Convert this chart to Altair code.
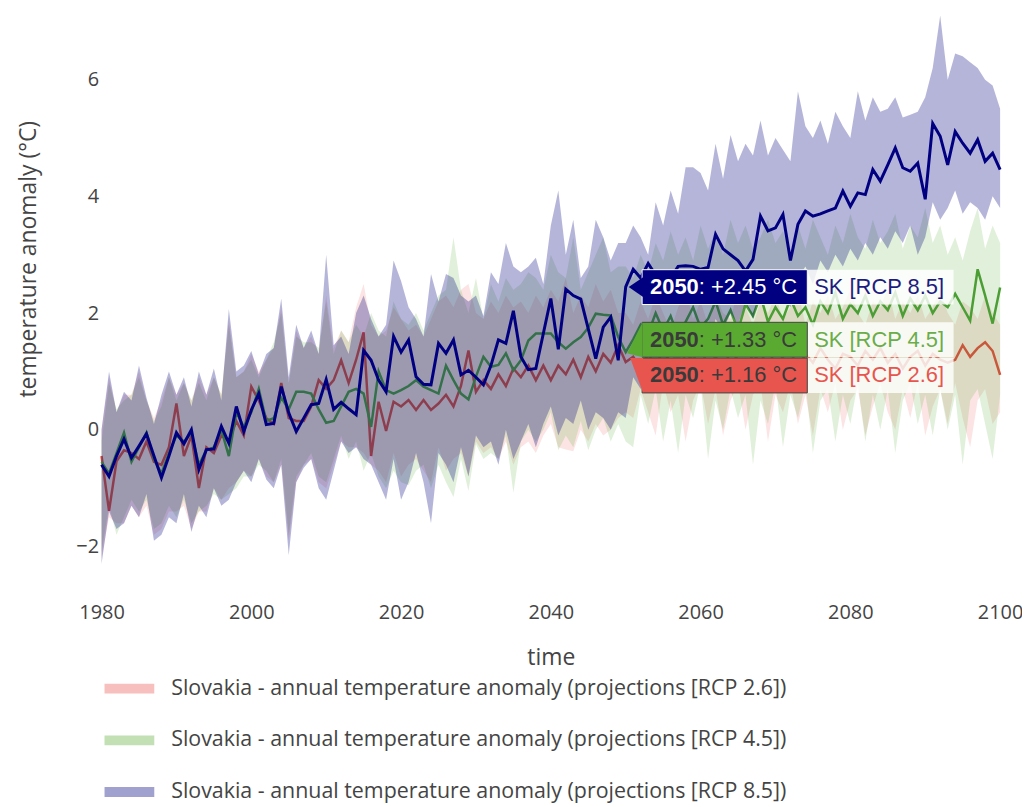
import altair as alt
import pandas as pd

# ---------------- data ----------------
YEARS = list(range(1980, 2101))
SCENARIOS = ["RCP 2.6", "RCP 4.5", "RCP 8.5"]
LEGEND_NAMES = [
    "Slovakia - annual temperature anomaly (projections [RCP 2.6])",
    "Slovakia - annual temperature anomaly (projections [RCP 4.5])",
    "Slovakia - annual temperature anomaly (projections [RCP 8.5])",
]
HOVER_NAMES = ["SK [RCP 2.6]", "SK [RCP 4.5]", "SK [RCP 8.5]"]
HOVER_YEAR = 2050
X_TICKS = [1980, 2000, 2020, 2040, 2060, 2080, 2100]
Y_TICKS = [-2, 0, 2, 4, 6]

MEAN_26 = [
    -0.45, -1.39, -0.54, -0.35, -0.40, -0.50, -0.20, -0.55, -0.60, -0.30,
    0.45, -0.45, -0.10, -1.00, -0.30, -0.40, -0.10, -0.20, 0.15, -0.10,
    0.74, 0.50, 0.20, 0.10, 0.80, 0.20, 0.15, 0.15, 0.40, 0.85,
    0.70, 0.85, 1.19, 0.80, 1.20, 1.67, -0.45, 0.48, -0.02, 0.48,
    0.40, 0.51, 0.34, 0.51, 0.34, 0.45, 0.60, 0.40, 0.75, 1.36,
    0.65, 0.85, 0.70, 0.95, 0.75, 1.05, 0.90, 1.10, 0.85, 1.10,
    0.85, 1.10, 0.95, 1.20, 0.90, 1.25, 1.00, 1.30, 1.15, 1.45,
    1.16, 1.25, 1.05, 1.30, 1.10, 1.35, 1.15, 1.00, 1.30, 1.20,
    1.40, 1.10, 1.25, 1.05, 1.35, 1.20, 1.00, 1.30, 1.15, 1.40,
    1.10, 1.25, 1.35, 1.05, 1.30, 1.15, 1.40, 1.20, 1.05, 1.30,
    1.25, 1.10, 1.35, 1.20, 1.40, 1.15, 1.30, 1.05, 1.25, 1.35,
    1.10, 1.30, 1.20, 1.15, 1.20, 1.45, 1.25, 1.40, 1.50, 1.35,
    0.94,
]
LOW_26 = [
    -2.2, -1.5, -1.6, -1.6, -1.3, -1.5, -1.3, -1.8, -1.7, -1.4,
    -1.4, -1.3, -1.7, -1.4, -1.4, -1.0, -1.2, -1.0, -0.9, -0.7,
    -0.8, -0.5, -0.8, -0.9, -0.6, -1.9, -0.9, -0.6, -0.5, -0.9,
    -1.0, -0.6, -0.2, -0.3, -0.3, -0.4, -0.6, -0.7, -0.9, -0.4,
    -0.8, -0.6, -0.5, -0.7, -0.9, -0.3, -0.7, -0.5, -0.4, -0.8,
    -0.2, -0.4, -0.3, -0.5, -0.2, -0.6, -0.3, -0.2, -0.4, -0.1,
    0.1, -0.3, -0.34, -0.37, 0.0, -0.2, 0.1, -0.1, 0.0, 0.2,
    0.3, 0.2, 0.7, 0.3, -0.1, 0.8, 0.3, 0.6, -0.2, 0.5,
    0.8, 0.1, 0.7, -0.1, 0.5, 0.8, 0.0, 0.6, 0.8, -0.2,
    0.6, 0.3, 0.8, 0.1, 0.6, -0.1, 0.7, 0.3, 0.8, 0.0,
    0.5, 0.7, -0.1, 0.4, 0.8, 0.3, 0.0, 0.7, 0.2, 0.8,
    -0.1, 0.4, 0.7, 0.1, 0.8, 0.2, -0.3, 0.5, 0.7, 0.1,
    0.3,
]
HIGH_26 = [
    0.0, 0.9, 0.3, 0.6, 0.6, 1.0, 0.5, 0.2, 0.5, 0.9,
    0.6, 0.8, 0.5, 0.9, 0.6, 0.9, 0.6, 1.9, 0.9, 1.0,
    1.3, 1.0, 1.2, 1.4, 2.1, 0.8, 1.7, 1.4, 1.6, 1.3,
    2.3, 1.4, 1.7, 1.5, 2.1, 2.5, 1.8, 1.6, 1.7, 2.1,
    1.9, 1.7, 1.8, 1.6, 1.9, 2.2, 2.3, 2.1, 2.4, 2.5,
    2.0, 1.9, 2.2, 2.0, 2.3, 2.1, 2.2, 2.0, 2.3, 2.1,
    2.4, 2.2, 2.6, 2.0, 2.3, 2.1, 2.5, 2.2, 2.4, 2.0,
    2.0, 1.8, 2.2, 1.9, 2.3, 2.0, 1.7, 2.1, 2.4, 1.9,
    2.2, 1.8, 2.3, 2.0, 1.9, 2.4, 2.1, 1.8, 2.2, 2.0,
    2.3, 1.9, 2.1, 2.4, 1.8, 2.2, 2.0, 2.3, 1.9, 2.1,
    2.4, 2.0, 1.8, 2.2, 2.1, 2.4, 1.9, 2.2, 2.0, 2.3,
    1.9, 2.1, 2.4, 2.0, 1.8, 2.2, 2.1, 1.9, 2.3, 2.0,
    1.8,
]

MEAN_45 = [
    -0.55, -0.75, -0.40, -0.05, -0.55, -0.30, -0.05, -0.50, -0.75, -0.40,
    -0.10, -0.20, -0.05, -0.60, -0.35, -0.30, 0.00, -0.45, 0.30, 0.05,
    0.30, 0.70, 0.15, 0.20, 0.55, 0.35, 0.65, 0.65, 0.62, 0.35,
    0.12, 0.15, 0.40, 0.65, 0.70, 0.62, 0.05, 1.00, 0.68, 0.62,
    0.68, 0.75, 0.85, 0.74, 0.68, 0.62, 1.10, 0.85, 0.62, 0.52,
    0.91, 1.25, 1.08, 1.11, 1.31, 1.02, 1.19, 1.53, 1.65, 1.65,
    1.65, 1.50, 1.39, 1.50, 1.59, 1.75, 1.99, 1.97, 1.96, 1.59,
    1.33, 1.55, 1.80, 1.65, 2.00, 1.70, 1.95, 1.60, 1.85, 2.10,
    1.75, 1.90, 2.20, 1.80, 2.05, 1.70, 2.15, 1.95, 2.30, 1.85,
    2.10, 1.90, 2.25, 1.95, 2.10, 1.80, 2.20, 2.00, 2.35, 1.90,
    2.15, 2.00, 2.30, 1.95, 2.20, 2.05, 2.35, 1.95, 2.25, 2.05,
    2.30, 2.00, 2.20, 2.10, 2.33, 2.10, 1.87, 2.75, 2.30, 1.82,
    2.44,
]
LOW_45 = [
    -2.1, -1.3, -1.8, -1.5, -1.2, -1.4, -1.2, -1.7, -1.6, -1.3,
    -1.5, -1.2, -1.6, -1.4, -1.3, -1.1, -1.2, -1.1, -1.0, -0.8,
    -0.8, -0.6, -0.7, -0.9, -0.5, -1.8, -0.8, -0.6, -0.4, -0.8,
    -0.9, -0.5, -0.1, -0.5, -0.2, -0.7, -0.4, -0.8, -1.0, -0.7,
    -0.9, -0.95, -0.7, -0.6, -1.0, -0.6, -0.9, -1.15, -0.5, -1.05,
    -0.25, -0.5, -0.4, -0.5, -0.1, -1.08, -0.2, 0.0, -0.2, 0.0,
    0.3, -0.35, -0.1, -0.3, 0.15, -0.35, 0.0, 0.2, -0.2, 0.1,
    -0.2, -0.3, 0.6, 0.1, 0.7, -0.2, 0.5, -0.4, 0.6, 0.2,
    0.8, -0.5, 0.5, 0.0, 0.7, 0.2, 0.6, -0.6, 0.5, 0.1,
    0.8, -0.3, 0.6, 0.2, 0.8, -0.4, 0.5, 0.7, -0.2, 0.6,
    0.1, 0.8, -0.2, 0.6, 0.0, 0.7, -0.4, 0.5, 0.8, 0.1,
    0.6, -0.1, 0.7, 0.0, 0.6, -0.6, 0.5, 0.7, 0.1, -0.5,
    0.6,
]
HIGH_45 = [
    -0.2, 0.8, 0.35, 0.5, 0.6, 0.9, 0.5, 0.15, 0.4, 0.9,
    0.5, 0.8, 0.5, 0.8, 0.5, 0.9, 0.6, 1.8, 0.9, 1.0,
    1.2, 0.9, 1.2, 1.5, 2.0, 0.8, 1.6, 1.5, 1.5, 1.4,
    2.2, 1.3, 1.7, 1.5, 1.8, 1.6, 2.0, 1.7, 1.6, 2.2,
    1.9, 1.8, 2.0, 1.7, 2.0, 2.3, 2.4, 3.3, 2.4, 2.0,
    2.6, 1.9, 2.5, 2.2, 2.6, 2.4, 2.5, 2.7, 2.6, 2.4,
    3.0, 2.7, 2.6, 3.3, 2.4, 2.7, 3.0, 3.3, 2.7, 2.8,
    2.8, 2.6, 3.0, 2.7, 3.2, 2.9, 3.4, 3.0, 3.3, 2.9,
    3.5, 3.1, 3.4, 3.0, 3.6, 3.2, 3.5, 3.1, 3.3, 3.6,
    3.2, 3.4, 3.0, 3.5, 3.1, 3.6, 3.3, 3.0, 3.5, 3.2,
    3.7, 3.3, 3.1, 3.6, 3.2, 3.4, 3.7, 3.1, 3.5, 3.3,
    3.8, 3.2, 3.5, 3.0, 3.3, 2.9, 3.4, 3.8, 3.1, 3.5,
    3.2,
]

MEAN_85 = [
    -0.60, -0.80, -0.45, -0.16, -0.48, -0.28, -0.07, -0.45, -0.82, -0.45,
    -0.05, -0.24, 0.00, -0.68, -0.34, -0.33, 0.06, -0.23, 0.40, -0.03,
    0.34, 0.62, 0.09, 0.11, 0.74, 0.29, -0.03, 0.20, 0.43, 0.45,
    0.86, 0.35, 0.47, 0.36, 0.26, 1.36, 1.19, 0.85, 0.65, 1.60,
    1.33, 1.54, 0.91, 0.78, 0.77, 1.48, 1.31, 1.54, 0.94, 1.02,
    0.90, 0.77, 1.10, 1.54, 1.48, 2.04, 1.25, 1.03, 1.05, 1.65,
    2.25, 1.38, 2.41, 2.30, 2.24, 1.73, 1.22, 1.76, 1.93, 1.19,
    2.45, 2.75, 2.60, 2.85, 2.65, 2.50, 2.60, 2.80, 2.81, 2.80,
    2.75, 2.78, 3.35, 3.10, 3.00, 2.90, 2.72, 2.92, 3.66, 3.41,
    3.46, 3.69, 2.90, 3.52, 3.75, 3.66, 3.70, 3.75, 3.80, 4.09,
    3.83, 4.06, 4.03, 4.46, 4.26, 4.54, 4.83, 4.49, 4.43, 4.57,
    3.95, 5.25, 5.03, 4.54, 5.11, 4.91, 4.74, 4.97, 4.60, 4.74,
    4.46,
]
LOW_85 = [
    -2.3, -1.4, -1.7, -1.6, -1.3, -1.5, -1.1, -1.9, -1.8, -1.5,
    -1.6, -1.1, -1.75, -1.3, -1.5, -1.0, -1.3, -1.2, -0.9, -0.7,
    -0.9, -0.5, -0.85, -1.0, -0.6, -2.15, -0.9, -0.65, -0.5, -1.0,
    -1.2, -0.7, -0.2, -0.4, -0.3, -0.5, -0.6, -0.9, -1.2, -0.5,
    -1.2, -0.9, -0.4, -0.9, -1.6, -0.4, -0.6, -0.9, -0.3, -0.8,
    -0.1, -0.3, -0.2, -0.6, 0.0, -0.5, -0.2, 0.1, -0.3, 0.1,
    0.4, -0.1, 0.2, 0.1, 0.5, 0.0, 0.3, 0.2, 0.0, 0.3,
    0.2, 0.9, 0.7, 1.0, 1.2, 0.9, 1.3, 1.1, 1.5, 1.3,
    1.6, 1.4, 1.9, 1.7, 2.0, 1.8, 2.2, 1.9, 2.4, 2.2,
    2.5, 2.3, 2.1, 2.6, 2.8, 2.5, 2.9, 2.7, 3.0, 2.8,
    3.1, 2.9, 3.2, 3.0, 3.3, 3.1, 3.4, 3.2, 3.5, 3.0,
    3.3, 3.9, 3.6, 3.8, 4.1, 3.7, 3.9, 3.8, 3.6, 4.0,
    3.8,
]
HIGH_85 = [
    0.0, 1.0, 0.3, 0.65, 0.5, 1.1, 0.55, 0.1, 0.6, 1.0,
    0.6, 0.9, 0.4, 1.0, 0.6, 1.05, 0.5, 2.07, 1.0, 1.1,
    1.35, 0.95, 1.3, 1.4, 2.25, 0.9, 1.8, 1.4, 1.7, 1.3,
    3.0, 1.45, 1.6, 1.3, 2.0, 2.3, 1.9, 1.6, 1.8, 2.9,
    2.55, 2.1, 1.9, 1.6, 2.67, 2.2, 2.67, 2.6, 2.3, 2.2,
    2.3, 1.95, 2.7, 2.5, 3.2, 2.8, 2.7, 2.8, 2.95, 2.5,
    3.5, 4.1, 3.0, 3.6, 2.6, 2.8, 3.6, 3.3, 2.9, 3.2,
    3.2, 3.5, 3.3, 3.0, 3.9, 3.5, 4.1, 3.7, 4.5, 4.5,
    4.4, 4.1, 4.9, 4.3, 5.05, 4.6, 4.9, 4.7, 5.3, 4.7,
    5.0, 4.8, 4.6, 5.8, 5.2, 5.0, 5.3, 4.9, 5.45, 5.2,
    5.0, 5.8, 5.3, 5.7, 5.45, 5.5, 5.7, 5.35, 5.4, 5.45,
    5.7, 6.2, 7.1, 6.0, 6.45, 6.4, 6.3, 6.2, 6.0, 5.9,
    5.5,
]

MEANS = [MEAN_26, MEAN_45, MEAN_85]
LOWS = [LOW_26, LOW_45, LOW_85]
HIGHS = [HIGH_26, HIGH_45, HIGH_85]
for arr in MEANS + LOWS + HIGHS:
    assert len(arr) == len(YEARS), len(arr)

rows = []
for s, leg, me, lo, hi in zip(SCENARIOS, LEGEND_NAMES, MEANS, LOWS, HIGHS):
    for yr, m, l, h in zip(YEARS, me, lo, hi):
        rows.append({"year": yr, "scen": s, "series": leg, "mean": m, "low": l, "high": h})
df = pd.DataFrame(rows)

# ---------------- styles / layout ----------------
BAND_COLORS = ["#e8554e", "#5aaa32", "#000080"]
BAND_OPACITY = [0.16, 0.18, 0.29]
LEGEND_OPACITY = 0.37
LINE_COLORS = ["#e0463e", "#4a9e34", "#000080"]
LINE_WIDTHS = [2.5, 2.5, 3]
BOX_FILL = ["#e8554e", "#5aaa32", "#000080"]
BOX_STROKE = ["#444444", "#444444", "#ffffff"]
BOX_TEXT = ["#3a3a3a", "#3a3a3a", "#ffffff"]
NAME_TEXT = ["#e8554e", "#6aad4a", "#1c1c80"]
AXIS_COLOR = "#444444"

W, H = 903, 580
X_MIN, X_MAX = 1980, 2100
Y_MIN, Y_MAX = -2.73, 7.16
PX_X = W / (X_MAX - X_MIN)
PX_Y = H / (Y_MAX - Y_MIN)

# hover label geometry in pixels, relative to the hovered point
BOX_LEFT, BOX_MID, BOX_RIGHT = 16.5, 182.5, 329.5
BOX_HALF = 17.5
BOX_SHIFT = [13.5, -12.5, 0.3]          # downward shift of each label's centre
POINTER_DX = [10.5, 9.0, 10.0]
POINTER_PATH = [
    "M-0.6,-1.75L0.7,-1.75L0.7,1.75Z",
    "M0.8,-1.75L-0.75,1.35L0.8,1.75Z",
    "M-0.7,0L0.75,-1L0.75,1Z",
]
TXT_YEAR_DX, TXT_VAL_DX, TXT_NAME_DX = 24.5, 73.5, 189.5

idx = YEARS.index(HOVER_YEAR)
hov_rows = []
for i, s in enumerate(SCENARIOS):
    v = MEANS[i][idx]
    cy = v - BOX_SHIFT[i] / PX_Y
    hov_rows.append({
        "scen": s, "year": HOVER_YEAR, "cy": cy,
        "top": cy + BOX_HALF / PX_Y, "bot": cy - BOX_HALF / PX_Y,
        "xl": HOVER_YEAR + BOX_LEFT / PX_X, "xm": HOVER_YEAR + BOX_MID / PX_X,
        "xr": HOVER_YEAR + BOX_RIGHT / PX_X,
        "ylab": str(HOVER_YEAR), "vlab": ": {:+.2f} °C".format(v), "name": HOVER_NAMES[i],
    })
hov = pd.DataFrame(hov_rows)

xscale = alt.Scale(domain=[X_MIN, X_MAX], nice=False, zero=False)
yscale = alt.Scale(domain=[Y_MIN, Y_MAX], nice=False, zero=False)
xaxis = alt.Axis(values=X_TICKS, format="d", title="time", labelFontSize=20,
                 labelFlush=False, labelPadding=14, titleFontSize=23, titleY=69,
                 titleBaseline="middle")
yaxis = alt.Axis(values=Y_TICKS, title="temperature anomaly (°C)", labelFontSize=20,
                 labelFlush=False, labelPadding=3, titleFontSize=23, titleX=-73.5,
                 titleY=248, titleBaseline="middle", titleAlign="center")


def X(f):
    return alt.X(f, type="quantitative", scale=xscale, axis=xaxis)


def Y(f):
    return alt.Y(f, type="quantitative", scale=yscale, axis=yaxis)


legend = alt.Legend(
    title=None, orient="none", legendX=3, legendY=655, direction="vertical",
    symbolType="M-1,-0.2H1V0.2H-1Z", symbolSize=2500, symbolOpacity=LEGEND_OPACITY,
    symbolStrokeWidth=0, labelFont="Open Sans", labelFontSize=21.5,
    labelColor=AXIS_COLOR, labelOffset=17, rowPadding=16, labelLimit=0,
)
cscale = alt.Scale(domain=LEGEND_NAMES, range=BAND_COLORS)

layers = []
for i, s in enumerate(SCENARIOS):
    sub = alt.Chart(df).transform_filter(alt.datum.scen == s)
    layers.append(
        sub.mark_area(fillOpacity=BAND_OPACITY[i], opacity=1, interpolate="linear").encode(
            x=X("year"), y=Y("low"), y2="high",
            color=alt.Color("series:N", scale=cscale, legend=legend),
        )
    )
    layers.append(
        sub.mark_line(color=LINE_COLORS[i], strokeWidth=LINE_WIDTHS[i]).encode(
            x=X("year"), y=Y("mean")
        )
    )

for i, s in enumerate(SCENARIOS):
    h = alt.Chart(hov).transform_filter(alt.datum.scen == s)
    layers.append(h.mark_rect(color="#ffffff", opacity=0.82).encode(
        x=X("xm"), x2="xr", y=Y("top"), y2="bot"))
    layers.append(h.mark_rect(color=BOX_FILL[i], stroke=BOX_STROKE[i], strokeWidth=1).encode(
        x=X("xl"), x2="xm", y=Y("top"), y2="bot"))
    layers.append(h.mark_point(shape=POINTER_PATH[i], size=400, filled=True, opacity=1,
                               color=BOX_FILL[i], strokeWidth=0,
                               xOffset=POINTER_DX[i]).encode(x=X("year"), y=Y("cy")))
    layers.append(h.mark_text(align="left", baseline="middle", dx=TXT_YEAR_DX,
                              font="Liberation Sans", fontSize=22, fontWeight="bold",
                              color=BOX_TEXT[i]).encode(x=X("year"), y=Y("cy"), text="ylab:N"))
    layers.append(h.mark_text(align="left", baseline="middle", dx=TXT_VAL_DX,
                              font="Liberation Sans", fontSize=22,
                              color=BOX_TEXT[i]).encode(x=X("year"), y=Y("cy"), text="vlab:N"))
    layers.append(h.mark_text(align="left", baseline="middle", dx=TXT_NAME_DX,
                              font="Liberation Sans", fontSize=22,
                              color=NAME_TEXT[i]).encode(x=X("year"), y=Y("cy"), text="name:N"))

chart = (
    alt.layer(*layers)
    .properties(width=W, height=H, autosize=alt.AutoSizeParams(type="none"),
                padding={"left": 94, "top": 2, "right": 22, "bottom": 214})
    .configure_view(strokeWidth=0)
    .configure_axis(grid=False, domain=False, ticks=False, labelFont="Open Sans",
                    labelColor=AXIS_COLOR, titleFont="Open Sans", titleColor=AXIS_COLOR,
                    titleFontWeight="normal")
)

chart.save("out.html", embed_options={"renderer": "svg", "actions": False})
